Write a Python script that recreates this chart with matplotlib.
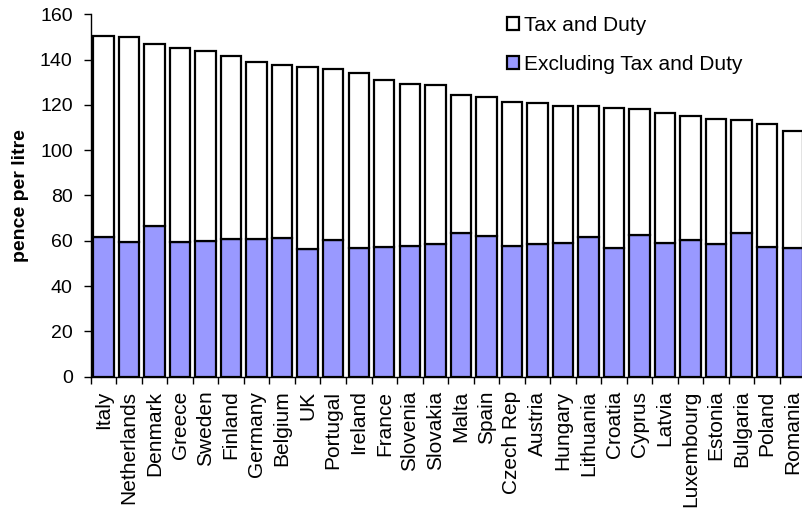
import matplotlib
matplotlib.use("Agg")
import matplotlib.pyplot as plt
import numpy as np

plt.rcParams['font.family'] = ['Liberation Sans', 'DejaVu Sans']

countries = ["Italy", "Netherlands", "Denmark", "Greece", "Sweden", "Finland", "Germany",
             "Belgium", "UK", "Portugal", "Ireland", "France", "Slovenia", "Slovakia",
             "Malta", "Spain", "Czech Rep", "Austria", "Hungary", "Lithuania", "Croatia",
             "Cyprus", "Latvia", "Luxembourg", "Estonia", "Bulgaria", "Poland", "Romania"]
total = [150.4, 150.1, 146.9, 145.1, 144.0, 141.5, 138.9, 137.6, 136.7, 135.7, 133.9, 131.0,
         129.1, 128.6, 124.2, 123.5, 121.1, 120.7, 119.7, 119.5, 118.6, 118.3, 116.4, 115.0,
         113.8, 113.5, 111.7, 108.6]
excl_tax = [61.8, 59.5, 66.7, 59.5, 59.9, 60.7, 60.7, 61.1, 56.2, 60.4, 56.7, 57.1, 57.7, 58.4,
            63.6, 62.3, 57.6, 58.4, 59.0, 61.5, 56.8, 62.6, 59.2, 60.4, 58.4, 63.3, 57.3, 56.7]
tax = [t - e for t, e in zip(total, excl_tax)]

W, H = 803, 508
fig = plt.figure(figsize=(W / 100, H / 100), dpi=100)
ax = fig.add_axes([90.7 / W, 131.3 / H, (805.5 - 90.7) / W, 362.4 / H])

x = np.arange(len(countries))
b1 = ax.bar(x, excl_tax, width=0.8, color='#9999FF', edgecolor='black', linewidth=1.6,
            label='Excluding Tax and Duty')
b2 = ax.bar(x, tax, bottom=excl_tax, width=0.8, color='white', edgecolor='black', linewidth=1.6,
            label='Tax and Duty')

ax.set_xlim(-0.5, len(countries) - 0.5)
ax.set_ylim(0, 160)
ax.set_yticks(range(0, 161, 20))
ax.set_xticks(x)
ax.set_xticklabels(countries, rotation=90, fontsize=15)
ax.set_xticks(np.arange(-0.5, len(countries), 1), minor=True)
ax.tick_params(axis='x', which='major', length=0, pad=10)
ax.tick_params(axis='x', which='minor', length=5, width=1, direction='out')
ax.tick_params(axis='y', labelsize=14, length=5, width=1, direction='out', pad=8)
for s in ['top', 'right']:
    ax.spines[s].set_visible(False)
ax.spines['left'].set_linewidth(1)
ax.spines['bottom'].set_linewidth(1)
ax.set_ylabel('pence per litre', fontsize=14, fontweight='bold', labelpad=8)

leg = fig.legend([b2, b1], ['Tax and Duty', 'Excluding Tax and Duty'],
                 loc='upper left', bbox_to_anchor=(507 / W, 1 - 16 / H),
                 frameon=False, fontsize=15, handlelength=0.6, handleheight=0.6,
                 handletextpad=0.2, labelspacing=0.95, borderpad=0, borderaxespad=0)

fig.savefig('out.png', dpi=100)
